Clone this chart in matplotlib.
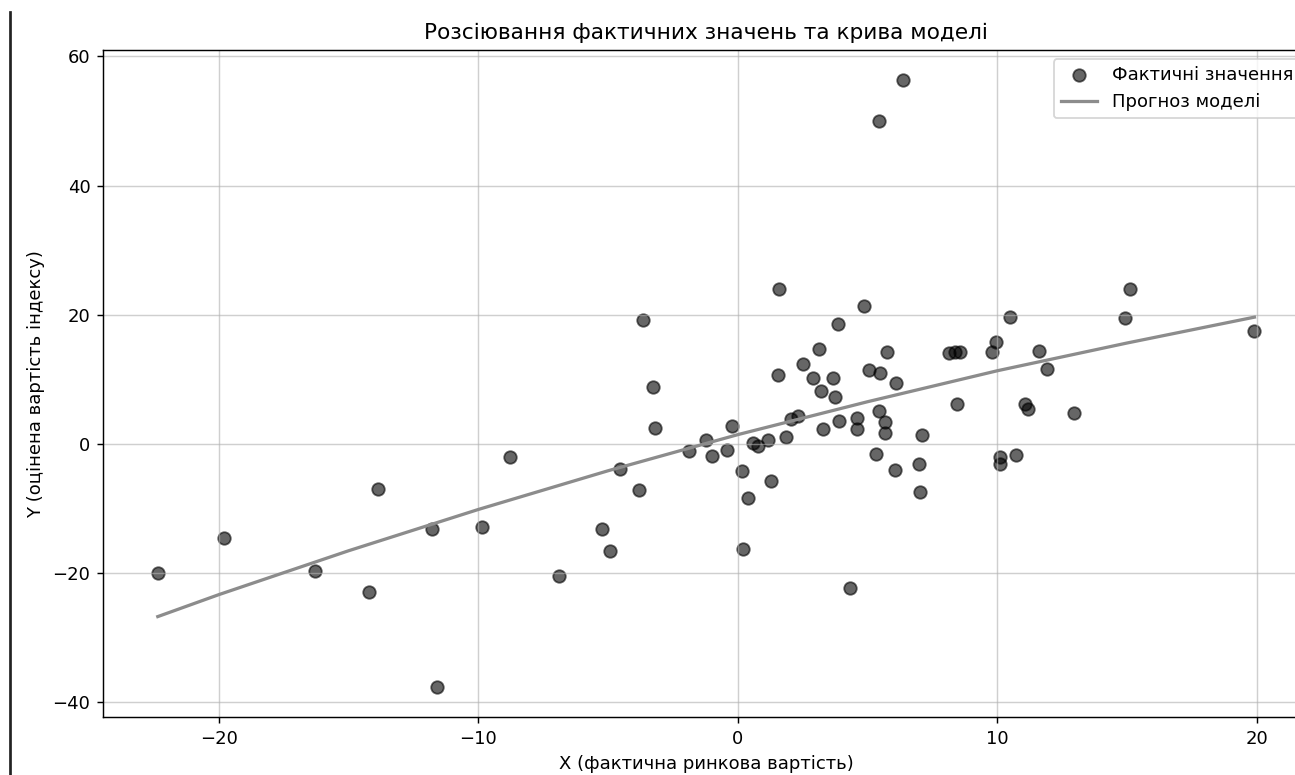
import numpy as np
import matplotlib
matplotlib.use("Agg")
import matplotlib.pyplot as plt
from matplotlib.lines import Line2D

x_actual = [
    -22.35, -19.8, -16.3, -13.85, -14.2, -11.8, -11.6, -9.85, -8.77, -6.9,
    -3.67, -3.26, -3.19, -0.24, -1.23, -1.88, -1.01, -0.41, -4.56, -3.8,
    -5.24, -4.92, 0.14, 0.4, 0.18, 0.59, 0.78, 1.17, 1.26, 1.87,
    2.06, 2.32, 1.59, 4.85, 3.86, 3.12, 5.74, 8.15, 8.35, 8.55,
    2.51, 1.53, 2.9, 3.67, 5.05, 5.46, 6.1, 3.19, 3.76, 8.44,
    5.44, 3.9, 4.6, 4.6, 5.68, 5.68, 3.26, 7.1, 5.31, 6.04,
    6.96, 7.03, 4.31, 5.42, 6.36, 15.1, 10.5, 14.9, 19.9, 9.95,
    9.8, 11.6, 11.9, 11.05, 11.17, 12.96, 10.1, 10.1, 10.7,
]
y_actual = [
    -20.0, -14.6, -19.7, -7.0, -23.0, -13.3, -37.7, -12.9, -2.0, -20.5,
    19.1, 8.8, 2.5, 2.7, 0.6, -1.2, -1.9, -1.0, -4.0, -7.2,
    -13.3, -16.7, -4.3, -8.4, -16.4, 0.1, -0.3, 0.6, -5.8, 1.0,
    3.8, 4.3, 23.9, 21.3, 18.6, 14.7, 14.2, 14.1, 14.2, 14.2,
    12.4, 10.6, 10.1, 10.1, 11.4, 10.9, 9.4, 8.2, 7.3, 6.2,
    5.1, 3.5, 4.0, 2.3, 3.3, 1.6, 2.3, 1.3, -1.6, -4.1,
    -3.1, -7.5, -22.4, 50.0, 56.3, 24.0, 19.6, 19.4, 17.4, 15.7,
    14.2, 14.4, 11.5, 6.2, 5.3, 4.7, -2.0, -3.1, -1.8,
]

# model curve, sampled along x
x_model = [-22.35, -20, -15, -10, -5, 0, 5, 10, 15, 19.9]
y_model = [-26.8, -23.4, -16.6, -10.2, -4.2, 1.4, 6.5, 11.3, 15.6, 19.6]

dpi = 130
fig = plt.figure(figsize=(1295 / dpi, 775 / dpi), dpi=dpi)
# axes runs past the right edge, as in the cropped original
ax = fig.add_axes([0.0795, 0.0745, 0.9315, 0.861])

sc = ax.scatter(x_actual, y_actual, color="black", alpha=0.6, s=48,
                label="Фактичні значення")
ln, = ax.plot(x_model, y_model, color="#8c8c8c", linewidth=1.8,
              label="Прогноз моделі")

ax.set_title("Розсіювання фактичних значень та крива моделі")
ax.set_xlabel("X (фактична ринкова вартість)")
ax.set_ylabel("Y (оцінена вартість індексу)")
ax.grid(True, alpha=0.6)
ax.legend(handles=[sc, ln], loc="upper right")

# vertical border line at the left edge of the screenshot
fig.add_artist(Line2D([0.0077, 0.0077], [0.0, 0.985], color="#222222",
                      linewidth=1.5, transform=fig.transFigure))

fig.savefig("out.png", dpi=dpi)
plt.close(fig)
